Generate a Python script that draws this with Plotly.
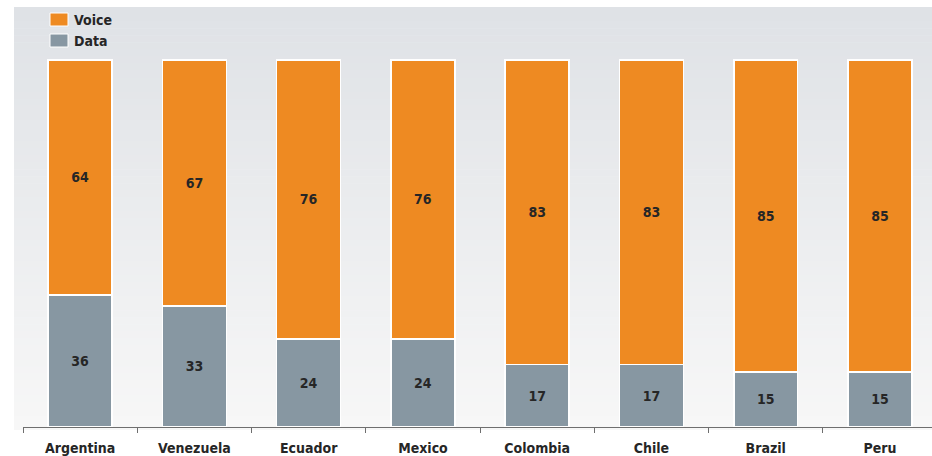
import plotly.graph_objects as go

countries = ["Argentina", "Venezuela", "Ecuador", "Mexico", "Colombia", "Chile", "Brazil", "Peru"]
voice = [64, 67, 76, 76, 83, 83, 85, 85]
data = [36, 33, 24, 24, 17, 17, 15, 15]

ORANGE = "#ee8a22"
SLATE = "#8797a2"
TEXT = "#262626"
FONT = "DejaVu Sans Condensed"

W, H = 932, 456
ML, MR, MT, MB = 23, 0, 40, 29
plot_w = W - ML - MR
plot_h = H - MT - MB

fig = go.Figure()
fig.add_trace(go.Bar(
    x=countries, y=data, name="Data",
    marker=dict(color=SLATE, line=dict(color="#ffffff", width=1.5)),
    text=data, textposition="inside", insidetextanchor="middle",
    textfont=dict(family=FONT, size=14, color=TEXT, weight="bold"),
    width=0.56, showlegend=False,
))
fig.add_trace(go.Bar(
    x=countries, y=voice, name="Voice",
    marker=dict(color=ORANGE, line=dict(color="#ffffff", width=1.5)),
    text=voice, textposition="inside", insidetextanchor="middle",
    textfont=dict(family=FONT, size=14, color=TEXT, weight="bold"),
    width=0.56, showlegend=False,
))


def px_to_paper_x(px):
    return (px - ML) / plot_w


def px_to_paper_y(py):
    return (H - MB - py) / plot_h


# soft vertical gradient behind the bars
top_rgb = (223, 226, 230)
bot_rgb = (247, 247, 247)
g_top, g_bot, g_left, g_right = 7, 430, 14, 932
steps = 60
for i in range(steps):
    t = i / (steps - 1)
    r = round(top_rgb[0] + (bot_rgb[0] - top_rgb[0]) * t)
    g = round(top_rgb[1] + (bot_rgb[1] - top_rgb[1]) * t)
    b = round(top_rgb[2] + (bot_rgb[2] - top_rgb[2]) * t)
    y0 = g_top + (g_bot - g_top) * i / steps
    y1 = min(g_top + (g_bot - g_top) * (i + 1) / steps + 0.6, g_bot)
    fig.add_shape(
        type="rect", xref="paper", yref="paper", layer="below",
        x0=px_to_paper_x(g_left), x1=px_to_paper_x(g_right),
        y0=px_to_paper_y(y1), y1=px_to_paper_y(y0),
        fillcolor=f"rgb({r},{g},{b})", line=dict(width=0),
    )

# legend: swatch + label per series
legend_items = [("Voice", ORANGE, 13), ("Data", SLATE, 34)]
for label, color, top in legend_items:
    fig.add_shape(
        type="rect", xref="paper", yref="paper",
        x0=px_to_paper_x(50), x1=px_to_paper_x(68),
        y0=px_to_paper_y(top + 13), y1=px_to_paper_y(top),
        fillcolor=color, line=dict(color="#ffffff", width=1),
    )
    fig.add_annotation(
        xref="paper", yref="paper", x=px_to_paper_x(72), y=px_to_paper_y(top + 6.5),
        xanchor="left", yanchor="middle", showarrow=False, text=label,
        font=dict(family=FONT, size=14, color=TEXT, weight="bold"),
    )

fig.update_layout(
    width=W, height=H,
    margin=dict(l=ML, r=MR, t=MT, b=MB),
    barmode="stack",
    paper_bgcolor="#ffffff",
    plot_bgcolor="rgba(0,0,0,0)",
    showlegend=False,
    xaxis=dict(
        range=[-0.5, 7.455],
        tickson="boundaries", ticks="outside", ticklen=5, tickcolor="#6e6e6e", tickwidth=1,
        showline=True, linecolor="#6e6e6e", linewidth=1,
        showgrid=False, zeroline=False,
        tickfont=dict(family=FONT, size=14, color=TEXT, weight="bold"),
        ticklabelstandoff=8,
    ),
    yaxis=dict(
        range=[0, 105.45], visible=False, showgrid=False, zeroline=False,
    ),
)

fig.write_html("out.html")
